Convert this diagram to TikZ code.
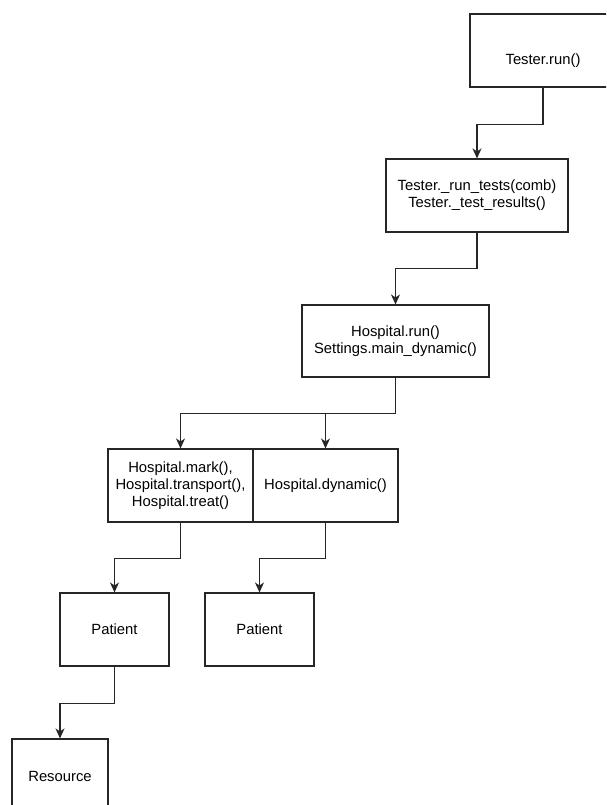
\documentclass[tikz,border=0pt]{standalone}
\usepackage{fontspec}
\setmainfont{Liberation Sans}
\usetikzlibrary{arrows.meta}
\tikzset{
  box/.style={draw=black!85, line width=1.1pt, rectangle, inner sep=0pt, align=center,
    font=\fontsize{14.8}{17}\selectfont},
  txt/.style={inner sep=0pt, align=center, font=\fontsize{14.8}{17}\selectfont},
  conn/.style={draw=black!85, line width=1.2pt, -{Stealth[length=10pt,width=9pt,inset=3pt]}}
}
\begin{document}
\begin{tikzpicture}[x=1pt,y=1pt]
\useasboundingbox (0,0) rectangle (606,-805);
\clip (0,0) rectangle (606,-805);
% top box
\node[box, line width=2.6pt, minimum width=146pt, minimum height=73pt] (top) at (543,-50.5) {};
\node[txt] (toplbl) at (543,-61) {Tester.run()};
% second
\node[box, minimum width=182pt, minimum height=73pt] (b2) at (477,-195.5)
  {Tester.\_run\_tests(comb)\\Tester.\_test\_results()};
% third
\node[box, minimum width=187pt, minimum height=72pt] (b3) at (395.5,-341)
  {Hospital.run()\\Settings.main\_dynamic()};
% children
\node[box, minimum width=145pt, minimum height=73pt] (mark) at (180.5,-485.5)
  {Hospital.mark(),\\Hospital.transport(),\\Hospital.treat()};
\node[box, minimum width=145pt, minimum height=73pt] (dyn) at (325.5,-485.5)
  {Hospital.dynamic()};
% patients
\node[box, minimum width=109pt, minimum height=73pt] (p1) at (114.5,-629.5) {Patient};
\node[box, minimum width=109pt, minimum height=73pt] (p2) at (259.5,-629.5) {Patient};
% resource
\node[box, minimum width=96pt, minimum height=74pt] (res) at (60,-776) {Resource};
% connectors
\draw[conn] (top.south) -- ++(0,-36) -| (b2.north);
\draw[conn] (b2.south) -- ++(0,-36) -| (b3.north);
\draw[conn] (b3.south) -- ++(0,-36) -| (mark.north);
\draw[conn] (b3.south) -- ++(0,-36) -| (dyn.north);
\draw[conn] (mark.south) -- ++(0,-36) -| (p1.north);
\draw[conn] (dyn.south) -- ++(0,-36) -| (p2.north);
\draw[conn] (p1.south) -- ++(0,-37) -| (res.north);
\end{tikzpicture}
\end{document}
